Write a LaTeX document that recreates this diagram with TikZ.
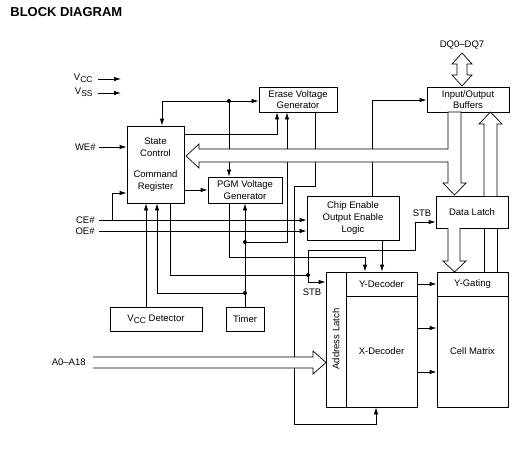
\documentclass[tikz,border=0pt]{standalone}
\usepackage{fontspec}
\setmainfont{Liberation Sans}
\usetikzlibrary{arrows.meta}
\begin{document}
\begin{tikzpicture}[x=1pt,y=-1pt,line width=0.8pt,
  every node/.style={font=\fontsize{9.5}{11.5}\selectfont},
  box/.style={draw,rectangle,inner sep=0pt,align=center},
  lbl/.style={inner sep=0pt},
  arr/.style={-{Latex[length=7pt,width=4.5pt]}},
  hollow/.style={draw,fill=white,line width=0.7pt},
  dot/.style={circle,fill,inner sep=0pt,minimum size=4pt}]
\useasboundingbox (0,0) rectangle (527,461);
\fill[white] (0,0) rectangle (527,461);

% title
\node[lbl,anchor=west,font=\bfseries\fontsize{13}{15}\selectfont] (title) at (10,12) {BLOCK DIAGRAM};

% boxes
\node[box,minimum width=57pt,minimum height=77pt] (sc) at (155.5,164.5) {State\\Control\\[10pt]Command\\Register};
\node[box,minimum width=78pt,minimum height=25pt] (erase) at (298,99.5) {Erase Voltage\\Generator};
\node[box,minimum width=82pt,minimum height=25pt] (io) at (468,99.5) {Input/Output\\Buffers};
\node[box,minimum width=74pt,minimum height=26pt] (pgm) at (245,190) {PGM Voltage\\Generator};
\node[box,minimum width=92pt,minimum height=44pt,font=\fontsize{9.5}{12}\selectfont] (ce) at (353,218) {Chip Enable\\Output Enable\\Logic};
\node[box,minimum width=72pt,minimum height=32pt] (dl) at (472,212) {Data Latch};
\node[box,minimum width=92pt,minimum height=24pt] (vccd) at (156,319) {V\raisebox{-2pt}{\fontsize{8.5}{9}\selectfont CC} Detector};
\node[box,minimum width=38pt,minimum height=24pt] (timer) at (245,319) {Timer};
\node[box,minimum width=20pt,minimum height=135pt] (al) at (336,339.5) {};
\node[lbl,rotate=90] (altext) at (336,339) {Address Latch};
\node[box,minimum width=71pt,minimum height=24pt] (yd) at (381.5,284) {Y-Decoder};
\node[box,minimum width=71pt,minimum height=111pt] (xd) at (381.5,351.5) {X-Decoder};
\node[box,minimum width=71pt,minimum height=24pt] (yg) at (472.5,284) {Y-Gating};
\node[box,minimum width=71pt,minimum height=111pt] (cm) at (472.5,351.5) {Cell Matrix};

% labels
\node[lbl,anchor=east] (vcc) at (93,78) {V\raisebox{-2pt}{\fontsize{8.5}{9}\selectfont CC}};
\node[lbl,anchor=east] (vss) at (93,92) {V\raisebox{-2pt}{\fontsize{8.5}{9}\selectfont SS}};
\node[lbl,anchor=east] (we) at (96,147) {WE\#};
\node[lbl,anchor=east] (cel) at (95,220) {CE\#};
\node[lbl,anchor=east] (oel) at (95,231) {OE\#};
\node[lbl,anchor=east] (al18) at (86,362) {A0--A18};
\node[lbl] (dq) at (462,45) {DQ0--DQ7};
\node[lbl] (stb1) at (422,213) {STB};
\node[lbl] (stb2) at (312,292) {STB};

% junctions
\coordinate (j1) at (229,101);
\coordinate (j2) at (245,242);
\coordinate (j3) at (245,293);
\coordinate (j4) at (308,275);

% power inputs
\draw[arr] (98,79) -- (121,79);
\draw[arr] (98,93) -- (121,93);

% WE#, CE#, OE#
\draw[arr] (99,147) -- (sc.west |- 0,147);
\draw[arr] (99,220) -- (ce.west |- 0,220);
\draw[arr] (112,220) |- (sc.west |- 0,193);
\draw[arr] (99,231) -- (ce.west |- 0,231);

% top net
\draw[arr] (j1) -| (162,0 |- sc.north);
\draw[arr] (j1) -- (erase.west |- j1);
\draw[arr] (j1) -- (j1 |- pgm.north);

% state control -> erase
\draw[arr] (sc.east |- 0,134) -| (277,0 |- erase.south);
% register -> pgm
\draw[arr] (sc.east |- 0,190) -- (pgm.west |- 0,190);

% timer net
\draw[arr] (timer.north) -- (pgm.south);
\draw[arr] (j2) -| (287,0 |- erase.south);
\draw[arr] (j3) -| (157,0 |- sc.south);
\draw[arr] (146,0 |- vccd.north) -- (146,0 |- sc.south);

% erase -> x-decoder
\draw[arr] (315,0 |- erase.south) -- (315,186) -| (294,424) -| (376,0 |- xd.south);

% register -> STB
\draw (170,0 |- sc.south) |- (j4);
\draw[arr] (j4) |- (al.west |- 0,282);
\draw[arr] (j4) |- (415,250) |- (dl.west |- 0,222);

% pgm -> y-decoder
\draw[arr] (229,0 |- pgm.south) |- (365,257) -- (365,0 |- yd.north);
% ce logic -> y-decoder, io
\draw[arr] (382,0 |- ce.south) -- (382,0 |- yd.north);
\draw[arr] (372,0 |- ce.north) |- (io.west |- 0,100);

% decoders -> cell matrix
\draw[arr] (yd.east) -- (yg.west);
\draw[arr] (xd.east |- 0,328) -- (cm.west |- 0,328);
\draw[arr] (xd.east |- 0,372) -- (cm.west |- 0,372);

% y-gating <-> data latch lines
\draw (484,0 |- yg.north) -- (484,0 |- dl.south);
\draw (497,0 |- yg.north) -- (497,0 |- dl.south);

% hollow buses
\draw[hollow] (186,156) -- (199,144) -- (199,149) -- (448,149) -- (448,112)
  -- (461,112) -- (461,183) -- (466,183) -- (454.5,195) -- (443,183) -- (448,183)
  -- (448,162) -- (199,162) -- (199,168) -- cycle;
\draw[hollow] (484,196) -- (484,124) -- (479,124) -- (490.5,112) -- (502,124) -- (497,124) -- (497,196);
\draw[hollow] (448,228) -- (448,261) -- (443,261) -- (454.5,272) -- (466,261) -- (460,261) -- (460,228);
\draw[hollow] (462,53) -- (472,64) -- (467,64) -- (467,75) -- (472,75) -- (462,86) -- (452,75) -- (457,75) -- (457,64) -- (452,64) -- cycle;
\draw[hollow] (93,357) -- (313,357) -- (313,351) -- (326,362.5) -- (313,374) -- (313,368) -- (93,368);

% dots
\node[dot] (d1) at (j1) {};
\node[dot] (d2) at (j2) {};
\node[dot] (d3) at (j3) {};
\node[dot] (d4) at (j4) {};
\end{tikzpicture}
\end{document}
